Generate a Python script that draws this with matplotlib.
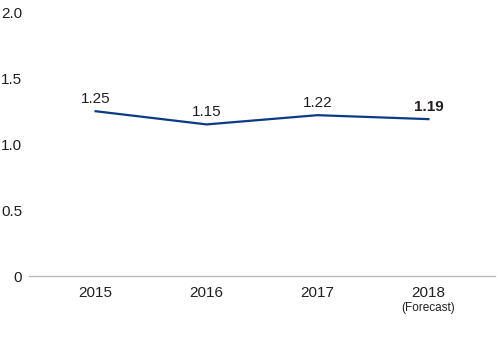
import matplotlib.pyplot as plt

plt.rcParams['font.family'] = ['Liberation Sans', 'DejaVu Sans']

years = ["2015", "2016", "2017", "2018"]
values = [1.25, 1.15, 1.22, 1.19]
labels = ["1.25", "1.15", "1.22", "1.19"]

fig = plt.figure(figsize=(5, 3.5), dpi=100)
ax = fig.add_axes([0.058, 0.211, 0.932, 0.754])

x = list(range(len(years)))
ax.plot(x, values, color='#0b3a86', linewidth=1.6)

for i, (v, lab) in enumerate(zip(values, labels)):
    bold = (i == len(values) - 1)
    ax.annotate(lab, (i, v), xytext=(0, 4), textcoords='offset points',
                ha='center', va='bottom', fontsize=11, color='#231f20',
                fontweight='bold' if bold else 'normal')

ax.set_xlim(-0.6, 3.6)
ax.set_ylim(0, 2.0)
ax.set_xticks(x)
ax.set_xticklabels(years, fontsize=11, color='#231f20')
ax.set_yticks([0, 0.5, 1.0, 1.5, 2.0])
ax.set_yticklabels(["0", "0.5", "1.0", "1.5", "2.0"], fontsize=11, color='#231f20')
ax.tick_params(length=0, pad=5)
ax.tick_params(axis='x', pad=7)

for s in ['top', 'right', 'left']:
    ax.spines[s].set_visible(False)
ax.spines['bottom'].set_color('#bbbbbb')
ax.spines['bottom'].set_linewidth(1)

ax.text(3, -0.245, "(Forecast)", ha='center', va='center', fontsize=8.5,
        color='#231f20', transform=ax.transData)

fig.savefig("out.png", dpi=100)
